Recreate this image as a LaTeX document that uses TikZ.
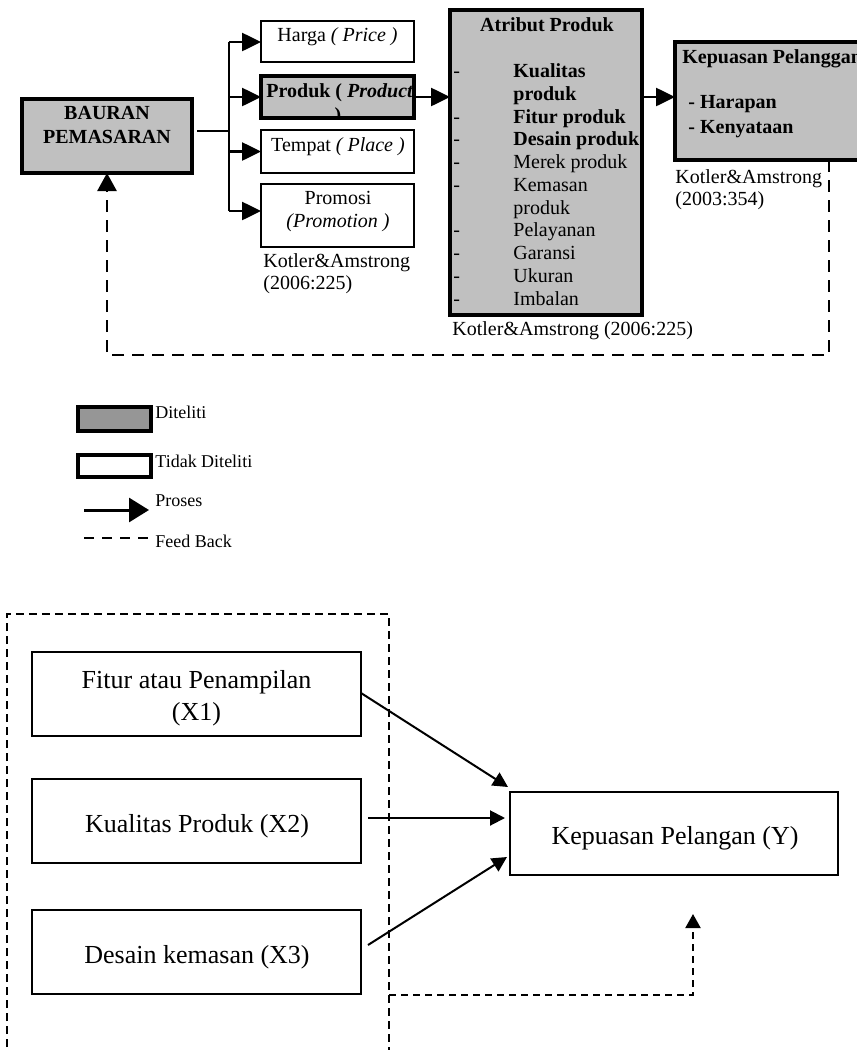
\documentclass[tikz,border=0pt]{standalone}
\usepackage{fontspec}
\setmainfont{Liberation Serif}
\usetikzlibrary{arrows.meta}
\definecolor{topgray}{RGB}{192,192,192}
\definecolor{leggray}{RGB}{150,150,150}
\begin{document}
\begin{tikzpicture}[x=0.5pt,y=-0.5pt,
  gbox/.style={draw, line width=1.6pt, fill=topgray, inner sep=0pt, outer sep=0pt},
  wbox/.style={draw, line width=1.3pt, fill=white, inner sep=0pt, outer sep=0pt},
  bbox/.style={draw, line width=0.7pt, fill=white, inner sep=0pt, outer sep=0pt},
  txt/.style={inner sep=0pt, anchor=base, font=\fontsize{10}{12}\selectfont},
  btxt/.style={txt, font=\fontsize{10}{12}\selectfont\bfseries},
  ltxt/.style={txt, anchor=base west},
  lbtxt/.style={btxt, anchor=base west},
  legtxt/.style={inner sep=0pt, anchor=base west, font=\fontsize{9}{11}\selectfont},
  bigtxt/.style={inner sep=0pt, anchor=base, font=\fontsize{13}{15}\selectfont},
  arr/.style={line width=1.3pt, -{Triangle[length=9.5pt,width=9pt]}},
  arrb/.style={line width=1pt, -{Triangle[length=7.5pt,width=7.5pt]}},
  fbtop/.style={line width=1.3pt, dash pattern=on 6pt off 4pt, -{Triangle[length=9pt,width=9.5pt]}},
  fbb/.style={line width=1pt, dash pattern=on 3.5pt off 2.5pt, -{Triangle[length=7pt,width=7.5pt]}},
  dbox/.style={line width=0.7pt, dash pattern=on 4pt off 2.5pt}
]
\useasboundingbox (0,0) rectangle (857,1050);

% ---------- top part: boxes ----------
\node[gbox, minimum width=85pt, minimum height=37pt] (baur) at (107,136) {};
\node[wbox, minimum width=76.5pt, minimum height=20.5pt] (harga) at (337.5,41.5) {};
\node[gbox, minimum width=76.5pt, minimum height=21pt] (prod) at (337.5,97) {};
\node[wbox, minimum width=76.5pt, minimum height=21.5pt] (temp) at (337.5,151.5) {};
\node[wbox, minimum width=76.5pt, minimum height=31.5pt] (promo) at (337.5,215.5) {};
\node[gbox, minimum width=96pt, minimum height=152.5pt] (attr) at (546,162.5) {};
\node[gbox, minimum width=102.5pt, minimum height=59pt] (kep) at (777.5,101) {};

% texts
\node[btxt] (t1) at (107,119) {BAURAN};
\node[btxt] (t2) at (107,143) {PEMASARAN};
\node[txt] (t3) at (337.5,41) {Harga \textit{( Price )}};
\node[lbtxt] (t4) at (266,97) {Produk ( \textit{Product}};
\begin{scope}
  \clip (prod.south west) rectangle (prod.north east);
  \node[btxt] (t5) at (338,121) {)};
\end{scope}
\node[txt] (t6) at (338,151) {Tempat \textit{( Place )}};
\node[txt] (t7) at (338,204) {Promosi};
\node[txt] (t8) at (338,227) {\textit{(Promotion )}};
\node[ltxt] (t9) at (263,267) {Kotler\&Amstrong};
\node[ltxt] (t10) at (263,289) {(2006:225)};

\node[btxt] (a0) at (547,31) {Atribut Produk};
\node[lbtxt] (a1) at (513,77) {Kualitas};
\node[lbtxt] (a2) at (513,100) {produk};
\node[lbtxt] (a3) at (513,123) {Fitur produk};
\node[lbtxt] (a4) at (513,145) {Desain produk};
\node[ltxt] (a5) at (513,168) {Merek produk};
\node[ltxt] (a6) at (513,191) {Kemasan};
\node[ltxt] (a7) at (513,214) {produk};
\node[ltxt] (a8) at (513,236) {Pelayanan};
\node[ltxt] (a9) at (513,259) {Garansi};
\node[ltxt] (a10) at (513,282) {Ukuran};
\node[ltxt] (a11) at (513,305) {Imbalan};
\foreach \yy [count=\i] in {77,123,145,168,191,236,259,282,305}
  \node[ltxt] (d\i) at (453,\yy) {-};
\node[ltxt] (k0) at (452,335) {Kotler\&Amstrong (2006:225)};

\node[lbtxt] (c0) at (682,63) {Kepuasan Pelanggan};
\node[lbtxt] (c1) at (688,108) {- Harapan};
\node[lbtxt] (c2) at (688,133) {- Kenyataan};
\node[ltxt] (c3) at (675,183) {Kotler\&Amstrong};
\node[ltxt] (c4) at (675,205) {(2003:354)};

% connectors top
\coordinate (jn) at (229,131);
\coordinate (jt) at (229,42);
\coordinate (jb) at (229,211);
\draw[line width=1.1pt] ([xshift=2.5pt]baur.east |- jn) -- (jn);
\draw[line width=1.3pt] (jt) -- (jb);
\draw[arr] (jt) -- (jt -| harga.west);
\draw[arr] (jn |- prod.west) -- (prod.west);
\draw[arr] (jn |- temp.west) -- (temp.west);
\draw[arr] (jb) -- (jb -| promo.west);
\draw[arr] (prod.east) -- (prod.east -| attr.west);
\draw[arr] (attr.east |- prod.east) -- (kep.west |- prod.east);
\coordinate (fb1) at (829,355);
\draw[fbtop] (fb1 |- kep.south) -- (fb1) -| (baur.south);

% ---------- legend ----------
\node[draw, line width=2pt, fill=leggray, minimum width=36.5pt, minimum height=12pt, inner sep=0pt] (lg1) at (114.5,419) {};
\node[draw, line width=1.8pt, fill=white, minimum width=36.5pt, minimum height=11pt, inner sep=0pt] (lg2) at (114.5,466) {};
\node[legtxt] (l1) at (155,418) {Diteliti};
\node[legtxt] (l2) at (155,467) {Tidak Diteliti};
\node[legtxt] (l3) at (155,506) {Proses};
\node[legtxt] (l4) at (155,547) {Feed Back};
\coordinate (la1) at (84,510);
\coordinate (la2) at (149,510);
\draw[line width=1.5pt, -{Triangle[length=10pt,width=12pt]}] (la1) -- (la2);
\coordinate (ld1) at (84,538);
\coordinate (ld2) at (149,538);
\draw[line width=1.1pt, dash pattern=on 5pt off 4pt] (ld1) -- (ld2);

% ---------- bottom part ----------
\draw[dbox] (7,1060) |- (389,614) -- (389,1060);
\node[bbox, minimum width=164.5pt, minimum height=42pt] (x1) at (196.5,694) {};
\node[bbox, minimum width=164.5pt, minimum height=42pt] (x2) at (196.5,821) {};
\node[bbox, minimum width=164.5pt, minimum height=42pt] (x3) at (196.5,952) {};
\node[bbox, minimum width=164pt, minimum height=41.5pt] (yb) at (674,833.5) {};
\node[bigtxt] (bx1a) at (196.5,688) {Fitur atau Penampilan};
\node[bigtxt] (bx1b) at (196.5,720) {(X1)};
\node[bigtxt] (bx2) at (197,832) {Kualitas Produk (X2)};
\node[bigtxt] (bx3) at (197,963) {Desain kemasan (X3)};
\node[bigtxt] (by) at (675,844) {Kepuasan Pelangan (Y)};

\draw[arrb] ([yshift=0.5pt]x1.east) -- ([shift={(-1pt,2.5pt)}]yb.north west);
\coordinate (x2o) at (368,818);
\draw[arrb, shorten >=2.5pt] (x2o) -- (yb.west |- x2o);
\coordinate (x3o) at (368,945);
\draw[arrb] (x3o) -- ([shift={(-1.5pt,-11.75pt)}]yb.west);
\coordinate (bf0) at (389,995);
\coordinate (bf1) at (693,995);
\coordinate (bf2) at (693,914);
\draw[fbb] (bf0) -- (bf1) -- (bf2);
\end{tikzpicture}
\end{document}
